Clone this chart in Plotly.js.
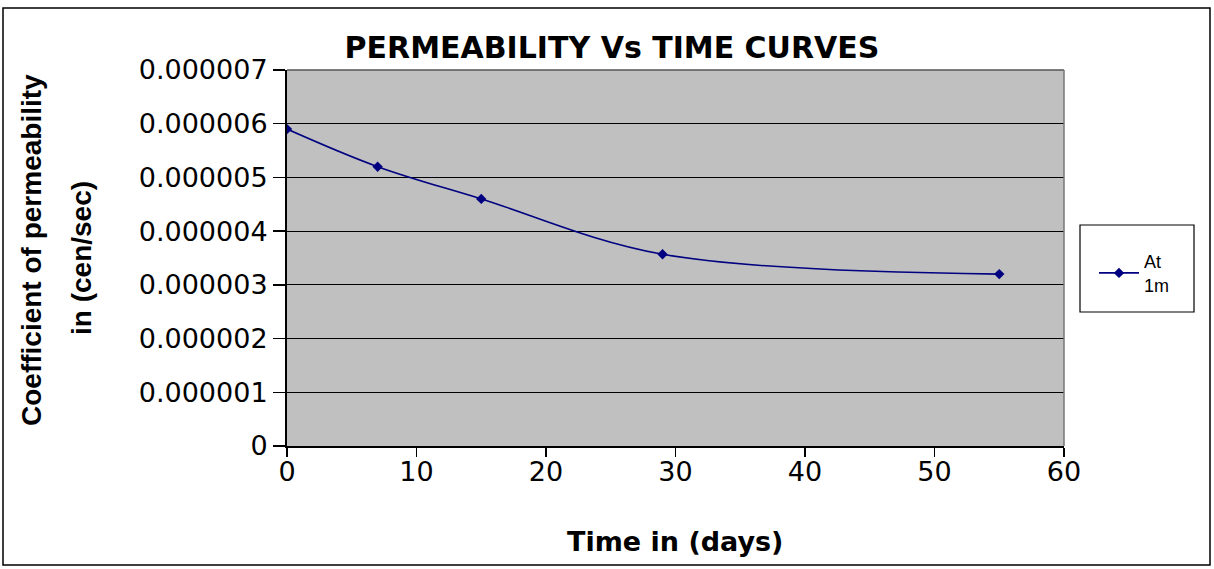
<!DOCTYPE html>
<html>
<head>
<meta charset="utf-8">
<script src="https://cdn.plot.ly/plotly-3.0.1.min.js"></script>
<style>
html,body{margin:0;padding:0;background:#fff;}
#chart{width:1214px;height:569px;}
</style>
</head>
<body>
<div id="chart"></div>
<script>
const timeDays = [0, 7, 15, 29, 55];
const permeability = [0.0000059, 0.0000052, 0.0000046, 0.00000357, 0.0000032];
const seriesName = "At<br>1m";
const yTickVals = [0, 0.000001, 0.000002, 0.000003, 0.000004, 0.000005, 0.000006, 0.000007];
const yTickText = ["0", "0.000001", "0.000002", "0.000003", "0.000004", "0.000005", "0.000006", "0.000007"];
const xTickVals = [0, 10, 20, 30, 40, 50, 60];
const chartTitle = "PERMEABILITY Vs TIME CURVES";
const xTitle = "Time in (days)";
const yTitleLines = ["Coefficient of permeability", "in (cen/sec)"];

const L = 287, R = 1064, T = 70, B = 446;
const W = R - L, H = B - T;
const px = v => (v - L) / W;
const py = v => (B - v) / H;

const trace = {
  x: timeDays,
  y: permeability,
  name: seriesName,
  type: 'scatter',
  mode: 'lines+markers',
  line: {color: '#000080', width: 1.6, shape: 'spline', smoothing: 1},
  marker: {symbol: 'diamond', size: 8, color: '#000080'}
};

const tickFont = {size: 27, family: 'DejaVu Sans, sans-serif', color: '#000'};

const layout = {
  width: 1214,
  height: 569,
  margin: {l: L, r: 1214 - R, t: T, b: 569 - B},
  paper_bgcolor: '#ffffff',
  plot_bgcolor: '#c0c0c0',
  font: {family: 'Liberation Sans, Arial, sans-serif', color: '#000'},
  title: {
    text: '<b>' + chartTitle + '</b>',
    font: {size: 30, family: 'DejaVu Sans, sans-serif', color: '#000'},
    x: 612/1214, xref: 'container', xanchor: 'center',
    y: 1 - 47/569, yref: 'container', yanchor: 'middle'
  },
  xaxis: {
    range: [0, 60],
    tickvals: xTickVals,
    ticks: 'outside', ticklen: 1, tickcolor: '#000', tickwidth: 1.5,
    tickfont: tickFont,
    minor: {tick0: 0, dtick: 10, ticks: 'outside', ticklen: 9, tickcolor: '#000', tickwidth: 1.5, showgrid: false},
    showgrid: false, zeroline: false,
    showline: true, linecolor: '#000', linewidth: 1.5
  },
  yaxis: {
    range: [0, 0.000007],
    tickvals: yTickVals,
    ticktext: yTickText,
    ticks: 'outside', ticklen: 12, tickcolor: '#000', tickwidth: 1.5,
    tickfont: tickFont,
    showgrid: true, gridcolor: '#000', gridwidth: 1,
    zeroline: false,
    showline: true, linecolor: '#000', linewidth: 2
  },
  showlegend: true,
  legend: {
    x: 1094/1214, xref: 'container', xanchor: 'left',
    y: 1 - 243/569, yref: 'container', yanchor: 'top',
    bgcolor: 'rgba(0,0,0,0)', borderwidth: 0,
    font: {size: 18, family: 'Liberation Sans, Arial, sans-serif'},
    itemwidth: 40
  },
  annotations: [
    {text: '<b>' + xTitle + '</b>', xref: 'paper', yref: 'paper',
     x: px(675), y: py(541), xanchor: 'center', yanchor: 'middle', showarrow: false,
     font: {size: 27, family: 'DejaVu Sans, sans-serif'}},
    {text: '<b>' + yTitleLines[0] + '</b>', xref: 'paper', yref: 'paper',
     x: px(31), y: py(250), xanchor: 'center', yanchor: 'middle', showarrow: false,
     textangle: -90, font: {size: 28, family: 'Liberation Sans, Arial, sans-serif'}},
    {text: '<b>' + yTitleLines[1] + '</b>', xref: 'paper', yref: 'paper',
     x: px(81), y: py(258), xanchor: 'center', yanchor: 'middle', showarrow: false,
     textangle: -90, font: {size: 28, family: 'Liberation Sans, Arial, sans-serif'}}
  ],
  shapes: [
    {type: 'line', xref: 'paper', yref: 'paper', x0: 0, x1: 1, y0: 1, y1: 1, line: {color: '#555', width: 1.5}},
    {type: 'line', xref: 'paper', yref: 'paper', x0: 1, x1: 1, y0: 0, y1: 1, line: {color: '#777', width: 1.5}},
    {type: 'rect', xref: 'paper', yref: 'paper',
     x0: px(1080), x1: px(1194), y0: py(312), y1: py(225),
     line: {color: '#000', width: 1.2}, fillcolor: '#fff', layer: 'below'},
    {type: 'rect', xref: 'paper', yref: 'paper',
     x0: px(3), x1: px(1210), y0: py(565), y1: py(8),
     line: {color: '#000', width: 1.5}, fillcolor: 'rgba(0,0,0,0)', layer: 'below'}
  ]
};

Plotly.newPlot('chart', [trace], layout, {displayModeBar: false, staticPlot: true});
</script>
</body>
</html>
